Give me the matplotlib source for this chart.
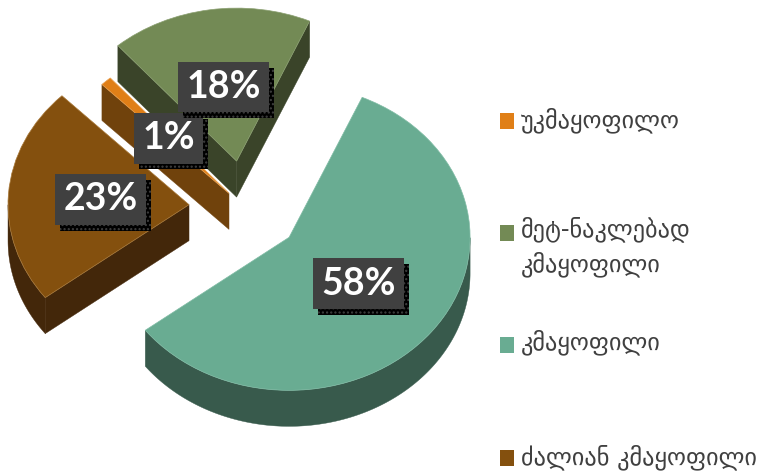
import numpy as np
import matplotlib
matplotlib.use("Agg")
import matplotlib.pyplot as plt
import matplotlib.patheffects as pe
from matplotlib.patches import Polygon, Rectangle

labels = ["უკმაყოფილო", "მეტ-ნაკლებად\nკმაყოფილი", "კმაყოფილი", "ძალიან კმაყოფილი"]
values = [1, 18, 58, 23]
explode = [0.13, 0.31, 0.31, 0.31]
top_colors = ["#E07F17", "#738A55", "#69AC92", "#84500E"]
wall_colors = ["#70420C", "#3A4429", "#385A4C", "#43270A"]
edge_colors = ["#E8A050", "#8A9F70", "#80BCA5", "#A87838"]
draw_order = [1, 0, 3, 2]  # back to front

W, H = 759, 475
cx, cy = 245, 208   # pie centre, pixels
rx, ry = 181, 153   # ellipse radii, pixels
depth = 36 / ry

fig = plt.figure(figsize=(W / 100, H / 100), dpi=100)
ax = fig.add_axes([0, 0, 1, 1])
wedges, texts, pcts = ax.pie(values, explode=explode, colors=top_colors, startangle=134.6,
                             counterclock=False, autopct="%1.0f%%", pctdistance=0.49,
                             textprops=dict(family="Lato", weight="bold", color="white", fontsize=27))
ax.set_aspect("auto")
ax.set_xlim(-cx / rx, (W - cx) / rx)
ax.set_ylim(-(H - cy) / ry, cy / ry)
ax.axis("off")


def wall(xs, ys, color, z):
    pts = list(zip(xs, ys)) + list(zip(xs[::-1], ys[::-1] - depth))
    ax.add_patch(Polygon(pts, closed=True, facecolor=color, edgecolor=color, lw=0.3, zorder=z))


for z, i in enumerate(draw_order):
    w = wedges[i]
    x0, y0 = w.center
    zw = 1 + z
    w.set_zorder(zw + 0.5)
    w.set_edgecolor(edge_colors[i])
    w.set_linewidth(0.5)
    lo, hi = np.radians(w.theta1), np.radians(w.theta2)
    # cut faces that look towards the viewer
    if np.cos(hi) < 0:
        wall(np.array([x0, x0 + np.cos(hi)]), np.array([y0, y0 + np.sin(hi)]), wall_colors[i], zw)
    if np.cos(lo) > 0:
        wall(np.array([x0, x0 + np.cos(lo)]), np.array([y0, y0 + np.sin(lo)]), wall_colors[i], zw)
    # front part of the rim
    t = np.linspace(lo, hi, 300)
    t = t[np.sin(t) < 0]
    if len(t) > 1:
        wall(x0 + np.cos(t), y0 + np.sin(t), wall_colors[i], zw)

for i, p in enumerate(pcts):
    p.set_zorder(20 + i)
    p.set_ha("center")
    p.set_va("center")
    p.set_bbox(dict(boxstyle="square,pad=0.22", facecolor="#404040", edgecolor="#404040",
                    hatch="....", linewidth=0))
    p.get_bbox_patch().set_path_effects([
        pe.SimplePatchShadow(offset=(3.6, -4.2), shadow_rgbFace="black", alpha=1),
        pe.Normal(),
    ])

# legend, placed by hand because of the uneven rows
swatch_y = [113, 225, 337, 450]
text_y = [107, 216, 329, 444]
for lab, col, sy, ty in zip(labels, top_colors, swatch_y, text_y):
    fig.add_artist(Rectangle((500 / W, 1 - (sy + 16) / H), 14 / W, 16 / H, facecolor=col,
                             edgecolor="none", transform=fig.transFigure))
    fig.text(521 / W, 1 - ty / H, lab, fontsize=17.5, color="#404040", va="top", ha="left",
             linespacing=1.5)

fig.savefig("out.png", dpi=100)
